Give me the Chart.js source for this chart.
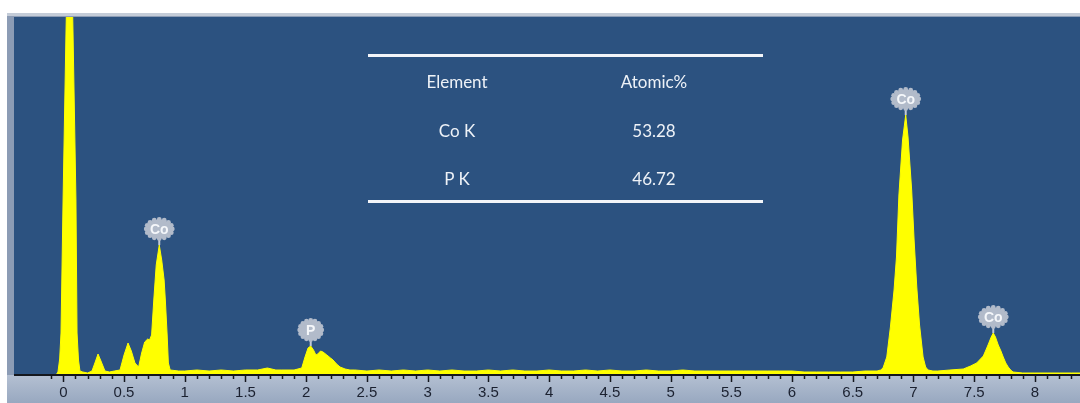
<!DOCTYPE html>
<html>
<head>
<meta charset="utf-8">
<script src="https://cdn.jsdelivr.net/npm/chart.js@4.4.0/dist/chart.umd.min.js"></script>
<style>
  html, body { margin: 0; padding: 0; background: #fff; }
  #wrap { position: relative; width: 1080px; height: 403px; overflow: hidden; }
  #espectro { position: absolute; left: 0; top: 0; }
  .tabla-linea { position: absolute; left: 368px; width: 395px; height: 3px; background: #f3f5f9; }
  .tabla-txt { position: absolute; transform: translate(-50%, -50%); font-family: Lato, "Open Sans", sans-serif;
               font-size: 17px; color: #eef2f7; white-space: nowrap; }
</style>
</head>
<body>
<div id="wrap">
  <canvas id="espectro" width="1080" height="403"></canvas>
  <div id="tabla"></div>
</div>
<script>
// === Datos del espectro EDS (energía en keV, cuentas) ===
const energyKeV = [
  -0.406, -0.06, -0.044, -0.03, -0.019, -0.002, 0.022, 0.051, 0.080, 0.104, 0.113, 0.125, 0.137,
  0.16, 0.20, 0.236, 0.26, 0.286, 0.31, 0.343, 0.38, 0.42, 0.467, 0.50, 0.533, 0.56, 0.59, 0.62, 0.645, 0.67, 0.695, 0.71,
  0.727, 0.745, 0.765, 0.79, 0.81, 0.83, 0.84, 0.855, 0.865, 0.88, 0.95,
  1.0, 1.1, 1.2, 1.3, 1.4, 1.5, 1.6, 1.68, 1.75, 1.8, 1.9,
  1.963, 1.99, 2.015, 2.037, 2.06, 2.08, 2.095, 2.118, 2.138, 2.17, 2.20, 2.221, 2.25, 2.279, 2.32, 2.36,
  2.4, 2.5, 2.6, 2.7, 2.8, 2.9,
  3.0, 3.1, 3.2, 3.3, 3.4, 3.5, 3.6, 3.7, 3.8, 3.9,
  4.0, 4.1, 4.2, 4.3, 4.4, 4.5, 4.6, 4.7, 4.8, 4.9,
  5.0, 5.1, 5.2, 5.3, 5.4, 5.5, 5.6, 5.7, 5.8, 5.9,
  6.0, 6.1, 6.2, 6.3, 6.4, 6.5, 6.6,
  6.70, 6.73, 6.749, 6.78, 6.81, 6.84, 6.86, 6.88, 6.91, 6.936, 6.955, 6.985, 7.005, 7.027, 7.05, 7.079, 7.10, 7.12, 7.16,
  7.2, 7.3, 7.41, 7.47, 7.52, 7.575, 7.60, 7.617, 7.64, 7.657, 7.675, 7.698, 7.72, 7.739, 7.76, 7.78, 7.80, 7.82,
  7.9, 8.0, 8.1, 8.2, 8.3, 8.371
];
const counts = [
  0, 0, 3, 16, 42, 175, 342, 520, 342, 175, 42, 15, 4,
  3, 2, 4, 12, 21, 14, 4, 3, 4, 5, 20, 32, 24, 12, 8, 22, 33, 36, 35,
  40, 75, 110, 130, 115, 95, 75, 40, 12, 5, 4,
  4, 5, 4, 5, 4, 5, 5, 7, 5, 5, 5,
  7, 18, 27, 29, 25, 20, 21, 24, 23, 20, 17, 15, 11, 8, 6, 5,
  5, 4, 5, 4, 5, 4,
  5, 4, 5, 4, 4, 5, 4, 5, 4, 4,
  5, 4, 4, 5, 4, 5, 4, 4, 5, 4,
  4, 5, 4, 4, 4, 4, 4, 4, 4, 4,
  4, 3, 3, 3, 3, 3, 4,
  4, 5, 7, 18, 48, 85, 118, 180, 235, 260, 238, 185, 135, 88, 50, 18, 8, 5, 4,
  4, 5, 6, 9, 12, 19, 26, 31, 38, 42, 38, 30, 24, 18, 12, 8, 5, 3,
  2, 2, 2, 2, 2, 2
];

// Etiquetas de picos
const peakNames = ['Co', 'P', 'Co', 'Co'];
const peakEnergy = [0.79, 2.037, 6.936, 7.657];

// Eje X
const xMin = -0.406;
const xMax = 8.371;
const majorTicks = [0, 0.5, 1, 1.5, 2, 2.5, 3, 3.5, 4, 4.5, 5, 5.5, 6, 6.5, 7, 7.5, 8];
const yMax = 358;

// Tabla de composición
const tableHeader = ['Element', 'Atomic%'];
const tableElements = ['Co K', 'P K'];
const tableAtomic = ['53.28', '46.72'];

// === Tabla sobre el gráfico ===
const tabla = document.getElementById('tabla');
let html = `<div class="tabla-linea" style="top:54px"></div><div class="tabla-linea" style="top:200px"></div>`;
const filas = [tableHeader].concat(tableElements.map((el, i) => [el, tableAtomic[i]]));
filas.forEach((fila, i) => {
  const y = 81 + i * 48.5;
  html += `<div class="tabla-txt" style="left:457px;top:${y}px">${fila[0]}</div>`;
  html += `<div class="tabla-txt" style="left:654px;top:${y}px">${fila[1]}</div>`;
});
tabla.innerHTML = html;

// === Fondo: marco, área azul y franja del eje ===
const fondoPlugin = {
  id: 'fondo',
  beforeDraw(chart) {
    const { ctx, chartArea: a, width, height } = chart;
    ctx.save();
    ctx.fillStyle = '#ffffff';
    ctx.fillRect(0, 0, width, height);
    ctx.fillStyle = '#8c9cb5';
    ctx.fillRect(7, 13, width - 7, height - 13);
    ctx.fillStyle = '#c4ccd8';
    ctx.fillRect(7, 13, width - 7, 3);
    const g = ctx.createLinearGradient(0, a.bottom, 0, height);
    g.addColorStop(0, '#b4c0d2');
    g.addColorStop(1, '#98a8c0');
    ctx.fillStyle = g;
    ctx.fillRect(7, a.bottom, width - 7, height - a.bottom);
    ctx.fillStyle = '#2c5280';
    ctx.fillRect(a.left, a.top, a.right - a.left, a.bottom - a.top);
    ctx.restore();
  }
};

function dibujarEtiqueta(ctx, cx, cy, texto) {
  const rx = texto.length > 1 ? 13 : 11;
  const ry = 9.5;
  ctx.fillStyle = '#b2bbca';
  ctx.beginPath();
  ctx.ellipse(cx, cy, rx, ry, 0, 0, Math.PI * 2);
  ctx.fill();
  for (let k = 0; k < 16; k++) {
    const t = k / 16 * Math.PI * 2;
    ctx.beginPath();
    ctx.arc(cx + Math.cos(t) * rx, cy + Math.sin(t) * ry, 2.4, 0, Math.PI * 2);
    ctx.fill();
  }
  ctx.fillStyle = '#f5f7fa';
  ctx.font = 'bold 14px "Liberation Sans", Arial, sans-serif';
  ctx.textAlign = 'center';
  ctx.textBaseline = 'middle';
  ctx.fillText(texto, cx, cy + 1);
}

// === Eje, marcas menores y etiquetas de picos ===
const ejePlugin = {
  id: 'eje',
  afterDatasetsDraw(chart) {
    const { ctx, chartArea: a, scales: { x, y } } = chart;
    ctx.save();
    ctx.strokeStyle = '#14171d';
    ctx.lineWidth = 2;
    ctx.beginPath();
    ctx.moveTo(a.left, a.bottom);
    ctx.lineTo(a.right, a.bottom);
    ctx.stroke();
    ctx.lineWidth = 1.5;
    for (let i = -1; i <= 83; i++) {
      const px = Math.round(x.getPixelForValue(i / 10)) + 0.5;
      const largo = i % 5 === 0 ? 7 : 4;
      ctx.beginPath();
      ctx.moveTo(px, a.bottom);
      ctx.lineTo(px, a.bottom + largo);
      ctx.stroke();
    }
    peakNames.forEach((nombre, i) => {
      let idx = 0;
      energyKeV.forEach((e, j) => {
        if (Math.abs(e - peakEnergy[i]) < Math.abs(energyKeV[idx] - peakEnergy[i])) idx = j;
      });
      const px = x.getPixelForValue(energyKeV[idx]);
      const py = y.getPixelForValue(counts[idx]);
      ctx.strokeStyle = '#c3cad6';
      ctx.lineWidth = 2;
      ctx.beginPath();
      ctx.moveTo(px, py);
      ctx.lineTo(px, py - 7);
      ctx.stroke();
      dibujarEtiqueta(ctx, px, py - 16, nombre);
    });
    ctx.restore();
  }
};

new Chart(document.getElementById('espectro'), {
  type: 'line',
  data: {
    datasets: [{
      data: energyKeV.map((e, i) => ({ x: e, y: counts[i] })),
      fill: 'origin',
      backgroundColor: '#ffff00',
      borderColor: '#ffff00',
      borderWidth: 1,
      pointRadius: 0,
      tension: 0
    }]
  },
  options: {
    responsive: false,
    animation: false,
    events: [],
    layout: { padding: { left: 14, right: 0, top: 17, bottom: 0 } },
    plugins: { legend: { display: false }, tooltip: { enabled: false } },
    scales: {
      x: {
        type: 'linear',
        min: xMin,
        max: xMax,
        afterBuildTicks: s => { s.ticks = majorTicks.map(v => ({ value: v })); },
        afterFit: s => { s.height = 28; },
        grid: { display: false, drawTicks: false },
        border: { display: false },
        ticks: {
          padding: 9,
          color: '#1b2130',
          autoSkip: false,
          maxRotation: 0,
          font: { family: '"Liberation Sans", Arial, sans-serif', size: 15 },
          callback: v => String(v)
        }
      },
      y: { display: false, min: 0, max: yMax }
    }
  },
  plugins: [fondoPlugin, ejePlugin]
});
</script>
</body>
</html>
